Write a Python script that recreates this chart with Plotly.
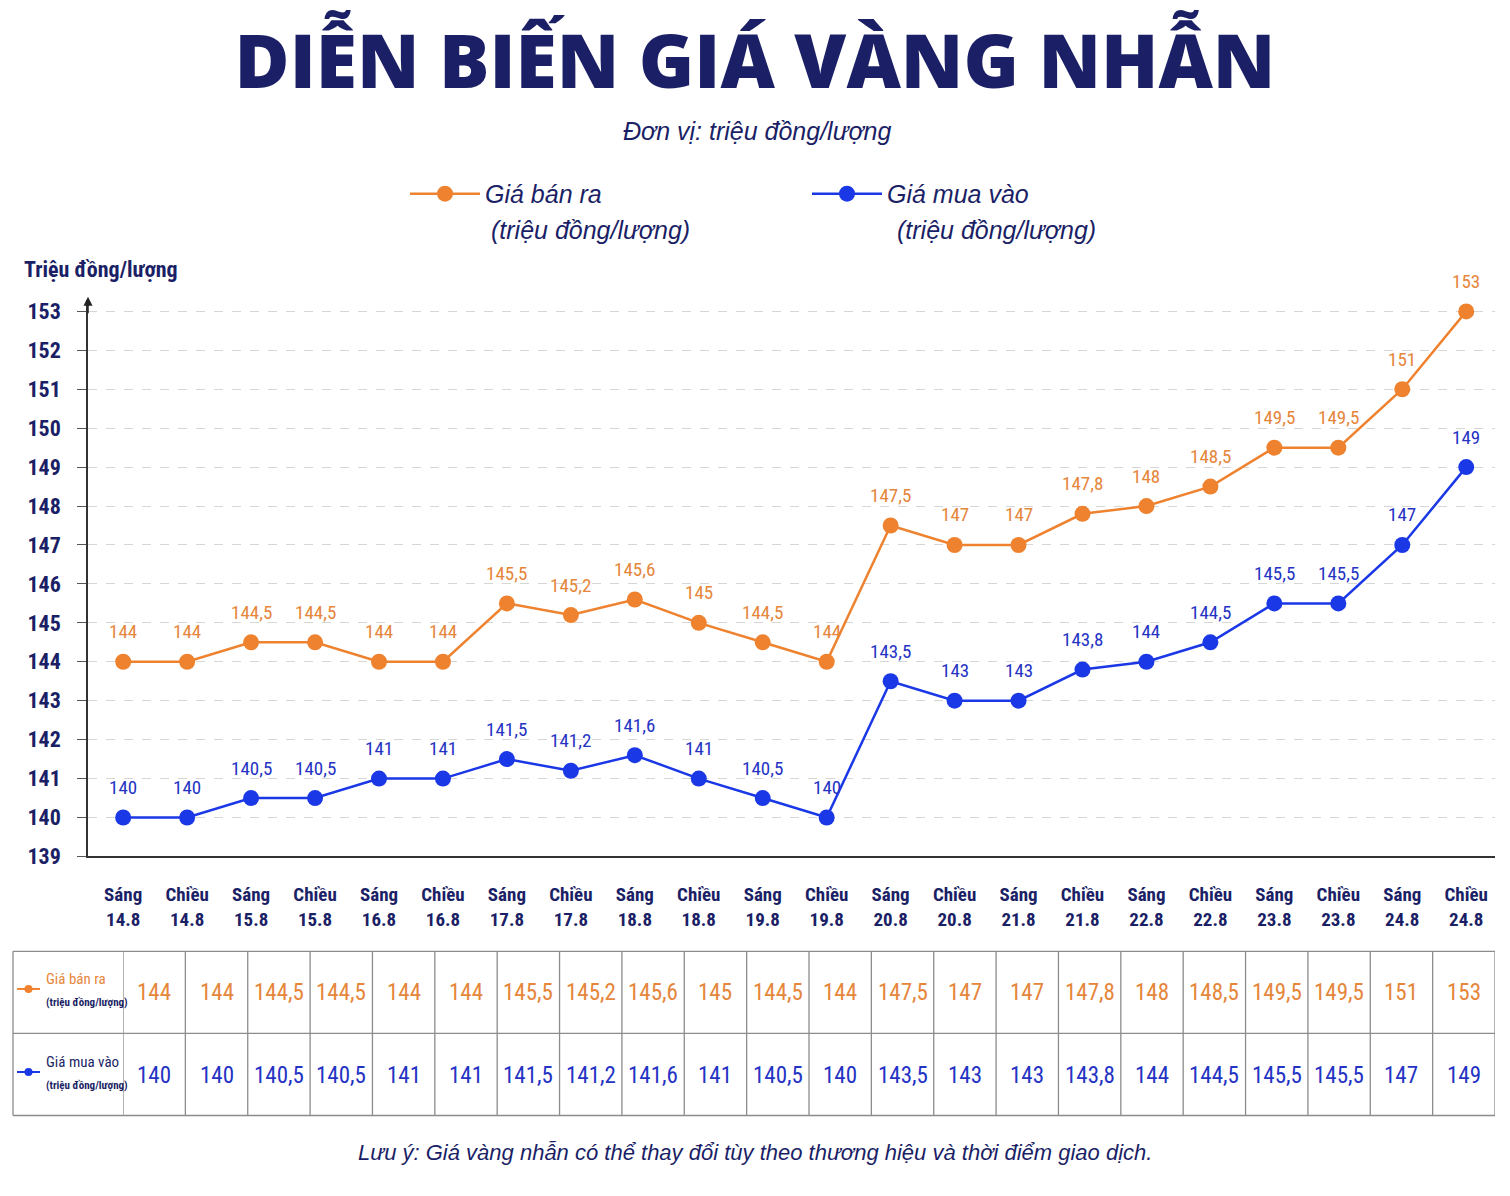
import plotly.graph_objects as go

# --- data -------------------------------------------------------------
sessions = ["Sáng", "Chiều"] * 11
dates = ["14.8", "14.8", "15.8", "15.8", "16.8", "16.8", "17.8", "17.8",
         "18.8", "18.8", "19.8", "19.8", "20.8", "20.8", "21.8", "21.8",
         "22.8", "22.8", "23.8", "23.8", "24.8", "24.8"]
categories = [f"{s}<br>{d}" for s, d in zip(sessions, dates)]

sell_price = [144, 144, 144.5, 144.5, 144, 144, 145.5, 145.2, 145.6, 145,
              144.5, 144, 147.5, 147, 147, 147.8, 148, 148.5, 149.5, 149.5,
              151, 153]
buy_price = [140, 140, 140.5, 140.5, 141, 141, 141.5, 141.2, 141.6, 141,
             140.5, 140, 143.5, 143, 143, 143.8, 144, 144.5, 145.5, 145.5,
             147, 149]

y_ticks = list(range(139, 154))

# --- style -------------------------------------------------------------
# the page adds a body margin, keep the whole thing inside the window
W, H = 1494, 1166
NAVY = "#1b1f66"
ORANGE = "#ee822f"
ORANGE_TXT = "#e5863b"
BLUE = "#1a38e6"
BLUE_TXT = "#2533c4"
COND = "Roboto Condensed, Open Sans Condensed, Liberation Sans, sans-serif"
SANS = "Liberation Sans, Arial, Helvetica, sans-serif"


def px(x):
    """reference pixel x -> paper x"""
    return (x - 8) / W


def py(y):
    """reference pixel y -> paper y"""
    return 1 - (y - 8) / H


def fmt(v):
    return (f"{v:g}").replace(".", ",")


def note(x, y, text, font, xanchor="center"):
    return dict(xref="paper", yref="paper", x=px(x), y=py(y), text=text,
                xanchor=xanchor, yanchor="middle", showarrow=False, font=font)


fig = go.Figure()

fig.add_trace(go.Scatter(
    x=categories, y=sell_price, mode="lines+markers",
    name="Giá bán ra",
    line=dict(color=ORANGE, width=2.5),
    marker=dict(color=ORANGE, size=16),
    cliponaxis=False,
))
fig.add_trace(go.Scatter(
    x=categories, y=buy_price, mode="lines+markers",
    name="Giá mua vào",
    line=dict(color=BLUE, width=2.5),
    marker=dict(color=BLUE, size=16),
    cliponaxis=False,
))

annotations = []
shapes = []

# value labels above the points
for series, col in ((sell_price, ORANGE_TXT), (buy_price, BLUE_TXT)):
    for c, v in zip(categories, series):
        annotations.append(dict(xref="x", yref="y", x=c, y=v, text=fmt(v),
                                yshift=30, showarrow=False,
                                font=dict(family=COND, size=19, color=col)))

# y axis arrow
annotations.append(dict(
    xref="paper", yref="paper", x=px(88), y=py(300), text="",
    showarrow=True, arrowhead=2, arrowsize=1.2, arrowwidth=1.5,
    arrowcolor="#222", ax=0, ay=18,
))

# texts around the chart
annotations.append(note(22, 272, "Triệu đồng/lượng",
                        dict(family=COND, size=22, color=NAVY, weight="bold"),
                        xanchor="left"))
annotations.append(note(757, 132, "Đơn vị: triệu đồng/lượng",
                        dict(family=SANS, size=25, color=NAVY, style="italic")))
annotations.append(note(755, 1165,
                        "Lưu ý: Giá vàng nhẫn có thể thay đổi tùy theo thương hiệu và thời điểm giao dịch.",
                        dict(family=SANS, size=22, color=NAVY, style="italic")))
# second line of the legend entries
for x in (489, 895):
    annotations.append(note(x, 233, "(triệu đồng/lượng)",
                            dict(family=SANS, size=25, color=NAVY, style="italic"),
                            xanchor="left"))

# --- table below the chart ----------------------------------------------
t_top, t_mid, t_bot = 962, 1045, 1128
row_sell, row_buy = 1004, 1088
line_style = dict(color="#8c8c8c", width=1.3)

for yy in (t_top, t_mid, t_bot):
    shapes.append(dict(type="line", xref="paper", yref="paper",
                       x0=px(13), x1=px(1495), y0=py(yy), y1=py(yy),
                       line=line_style))
shapes.append(dict(type="line", xref="paper", yref="paper",
                   x0=px(13), x1=px(13), y0=py(t_top), y1=py(t_bot),
                   line=line_style))
for i in range(len(categories) + 1):
    shapes.append(dict(type="line", xref="x2", yref="paper",
                       x0=i - 0.5, x1=i - 0.5, y0=py(t_top), y1=py(t_bot),
                       line=line_style))

for i, (s, b) in enumerate(zip(sell_price, buy_price)):
    annotations.append(dict(xref="x2", yref="paper", x=i, y=py(row_sell),
                            yanchor="middle", text=fmt(s), showarrow=False,
                            font=dict(family=COND, size=23, color=ORANGE_TXT)))
    annotations.append(dict(xref="x2", yref="paper", x=i, y=py(row_buy),
                            yanchor="middle", text=fmt(b), showarrow=False,
                            font=dict(family=COND, size=23, color=BLUE_TXT)))

# row headers with small legend icons
for yy, label, col, lab_col in ((row_sell - 4, "Giá bán ra", ORANGE, ORANGE_TXT),
                                (row_buy - 4, "Giá mua vào", BLUE, NAVY)):
    shapes.append(dict(type="line", xref="paper", yref="paper",
                       x0=px(17), x1=px(40), y0=py(yy), y1=py(yy),
                       line=dict(color=col, width=2)))
    shapes.append(dict(type="circle", xref="paper", yref="paper",
                       x0=px(24.5), x1=px(32.5), y0=py(yy - 4), y1=py(yy + 4),
                       fillcolor=col, line=dict(color=col, width=0)))
    annotations.append(note(44, yy - 10, label,
                            dict(family=COND, size=15, color=lab_col),
                            xanchor="left"))
    annotations.append(note(44, yy + 14, "(triệu đồng/lượng)",
                            dict(family=COND, size=11, color=NAVY, weight="bold"),
                            xanchor="left"))

fig.update_layout(
    width=W, height=H,
    margin=dict(l=0, r=0, t=0, b=0),
    paper_bgcolor="white", plot_bgcolor="white",
    title=dict(text="DIỄN BIẾN GIÁ VÀNG NHẪN", x=0.5, xanchor="center",
               y=py(62), yanchor="middle",
               font=dict(family="Open Sans, Liberation Sans, sans-serif",
                         size=75, color=NAVY, weight=800)),
    xaxis=dict(domain=[px(88), px(1495)], range=[-0.55, 21.45],
               showgrid=False, showline=True, linecolor="#333", linewidth=1.5,
               ticks="", tickfont=dict(family=COND, size=19, color=NAVY, weight="bold"),
               ticklabelstandoff=20, fixedrange=True),
    yaxis=dict(domain=[py(866), py(303)], range=[139, 153.3],
               tickvals=y_ticks, ticktext=[str(v) for v in y_ticks],
               showgrid=True, gridcolor="#d6d6d6", griddash="dash", gridwidth=1,
               showline=True, linecolor="#333", linewidth=1.5,
               ticks="outside", ticklen=9, tickcolor="#555",
               tickfont=dict(family=COND, size=22, color=NAVY, weight="bold"),
               ticklabelstandoff=12, zeroline=False, fixedrange=True),
    xaxis2=dict(domain=[px(123), px(1495)], range=[-0.5, 21.5],
                anchor="y2", visible=False, fixedrange=True),
    yaxis2=dict(domain=[0, 0.05], range=[0, 1], anchor="x2",
                visible=False, fixedrange=True),
    legend=dict(orientation="h", x=px(405), y=py(196), xanchor="left",
                yanchor="middle", entrywidth=317, itemwidth=70,
                font=dict(family=SANS, size=25, color=NAVY, style="italic"),
                bgcolor="rgba(0,0,0,0)"),
    showlegend=True,
    annotations=annotations,
    shapes=shapes,
)

fig.write_html("out.html")
